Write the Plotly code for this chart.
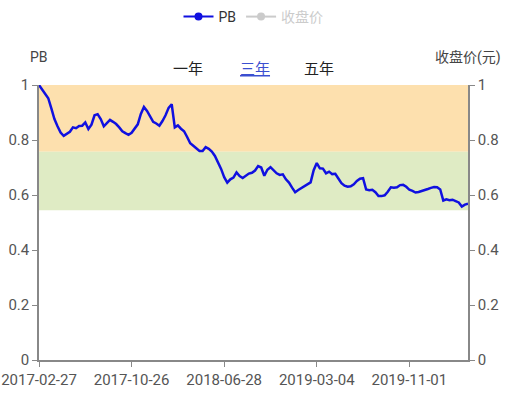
import plotly.graph_objects as go

# ---- data ----
TICK_LABELS = ["2017-02-27", "2017-10-26", "2018-06-28", "2019-03-04", "2019-11-01"]
POINTS_PER_LABEL = 30  # sample points between two consecutive date labels

PB = [
    1.000, 0.985, 0.971, 0.952, 0.915, 0.876, 0.850, 0.827, 0.815, 0.822,
    0.830, 0.846, 0.843, 0.851, 0.852, 0.864, 0.840, 0.856, 0.890, 0.894,
    0.876, 0.850, 0.860, 0.873, 0.866, 0.858, 0.846, 0.832, 0.825, 0.819,
    0.826, 0.840, 0.857, 0.895, 0.920, 0.906, 0.887, 0.866, 0.860, 0.852,
    0.869, 0.890, 0.917, 0.930, 0.846, 0.853, 0.841, 0.832, 0.811, 0.788,
    0.779, 0.769, 0.760, 0.760, 0.774, 0.768, 0.758, 0.742, 0.719, 0.695,
    0.665, 0.645, 0.657, 0.663, 0.682, 0.669, 0.662, 0.669, 0.678, 0.681,
    0.689, 0.705, 0.700, 0.670, 0.692, 0.701, 0.690, 0.679, 0.673, 0.675,
    0.657, 0.645, 0.627, 0.610, 0.618, 0.625, 0.633, 0.640, 0.646, 0.690,
    0.716, 0.697, 0.696, 0.679, 0.685, 0.676, 0.677, 0.660, 0.643, 0.634,
    0.630, 0.632, 0.639, 0.651, 0.659, 0.661, 0.620, 0.617, 0.619, 0.610,
    0.596, 0.596, 0.599, 0.612, 0.628, 0.626, 0.628, 0.636, 0.637, 0.630,
    0.619, 0.615, 0.609, 0.611, 0.614, 0.618, 0.622, 0.626, 0.629, 0.628,
    0.620, 0.580, 0.584, 0.581, 0.583, 0.578, 0.573, 0.558, 0.565, 0.568,
]

# PB valuation bands
BAND_HIGH = [0.757, 1.0]
BAND_MID = [0.545, 0.757]
Y_TICKS = [0, 0.2, 0.4, 0.6, 0.8, 1]
PERIODS = ["一年", "三年", "五年"]
ACTIVE_PERIOD = "三年"

x_idx = list(range(len(PB)))
tick_pos = [i * POINTS_PER_LABEL for i in range(len(TICK_LABELS))]

FONT = "Roboto, 'Noto Sans CJK SC', sans-serif"
W, H = 510, 395
ML, MR, MT, MB = 39, 42, 85, 35
PW, PH = W - ML - MR, H - MT - MB


def py(pixel_y):
    """paper y for a pixel row measured from the top of the page"""
    return (H - MB - pixel_y) / PH


def px(pixel_x):
    return (pixel_x - ML) / PW


fig = go.Figure()

fig.add_trace(go.Scatter(
    x=x_idx, y=PB, mode="lines", name="PB", legendgroup="pb", showlegend=False,
    line=dict(color="#1010e0", width=2.5),
))
fig.add_trace(go.Scatter(
    x=[None], y=[None], mode="lines+markers", name="PB", legendgroup="pb",
    line=dict(color="#1010e0", width=2), marker=dict(size=8, color="#1010e0"),
))
fig.add_trace(go.Scatter(
    x=[None], y=[None], mode="lines+markers",
    name='<span style="color:#999">收盘价</span>', visible="legendonly",
    line=dict(color="#999999", width=2), marker=dict(size=8, color="#999999"),
    yaxis="y2",
))

fig.add_hrect(y0=BAND_HIGH[0], y1=BAND_HIGH[1], fillcolor="#fde0ae", opacity=1,
              line_width=0, layer="below")
fig.add_hrect(y0=BAND_MID[0], y1=BAND_MID[1], fillcolor="#dfebc4", opacity=1,
              line_width=0, layer="below")

annotations = [
    dict(text="PB", xref="paper", yref="paper", x=0, y=py(57), xanchor="center",
         yanchor="middle", showarrow=False, font=dict(size=14, color="#444")),
    dict(text="收盘价(元)", xref="paper", yref="paper", x=1, y=py(57), xanchor="center",
         yanchor="middle", showarrow=False, font=dict(size=14, color="#444")),
]
btn_x = [188, 255, 319]
for label, bx in zip(PERIODS, btn_x):
    active = label == ACTIVE_PERIOD
    annotations.append(dict(
        text=f"<u>{label}</u>" if active else label,
        xref="paper", yref="paper", x=px(bx), y=py(69),
        xanchor="center", yanchor="middle", showarrow=False,
        font=dict(size=15, color="#3b4fd0" if active else "#222"),
    ))

axis_common = dict(
    showgrid=False, zeroline=False, showline=True, linecolor="#888", linewidth=1.5,
    ticks="outside", ticklen=5, tickcolor="#888", tickfont=dict(size=15, color="#555"),
    fixedrange=True,
)

fig.update_layout(
    width=W, height=H,
    margin=dict(l=ML, r=MR, t=MT, b=MB, autoexpand=False),
    paper_bgcolor="white", plot_bgcolor="white",
    font=dict(family=FONT, size=14, color="#555"),
    showlegend=True,
    legend=dict(orientation="h", x=0.5, xanchor="center", y=py(17), yanchor="middle",
                font=dict(size=14, color="#333"), itemwidth=30,
                bgcolor="rgba(0,0,0,0)"),
    annotations=annotations,
    xaxis=dict(range=[0, len(PB) - 1], tickmode="array", tickvals=tick_pos,
               ticktext=TICK_LABELS, **axis_common),
    yaxis=dict(range=[0, 1], tickmode="array", tickvals=Y_TICKS,
               ticktext=[f"{v:g}" for v in Y_TICKS], **axis_common),
    yaxis2=dict(range=[0, 1], overlaying="y", side="right", tickmode="array",
                tickvals=Y_TICKS, ticktext=[f"{v:g}" for v in Y_TICKS], **axis_common),
)

fig.write_html("out.html", config={"displayModeBar": False})
